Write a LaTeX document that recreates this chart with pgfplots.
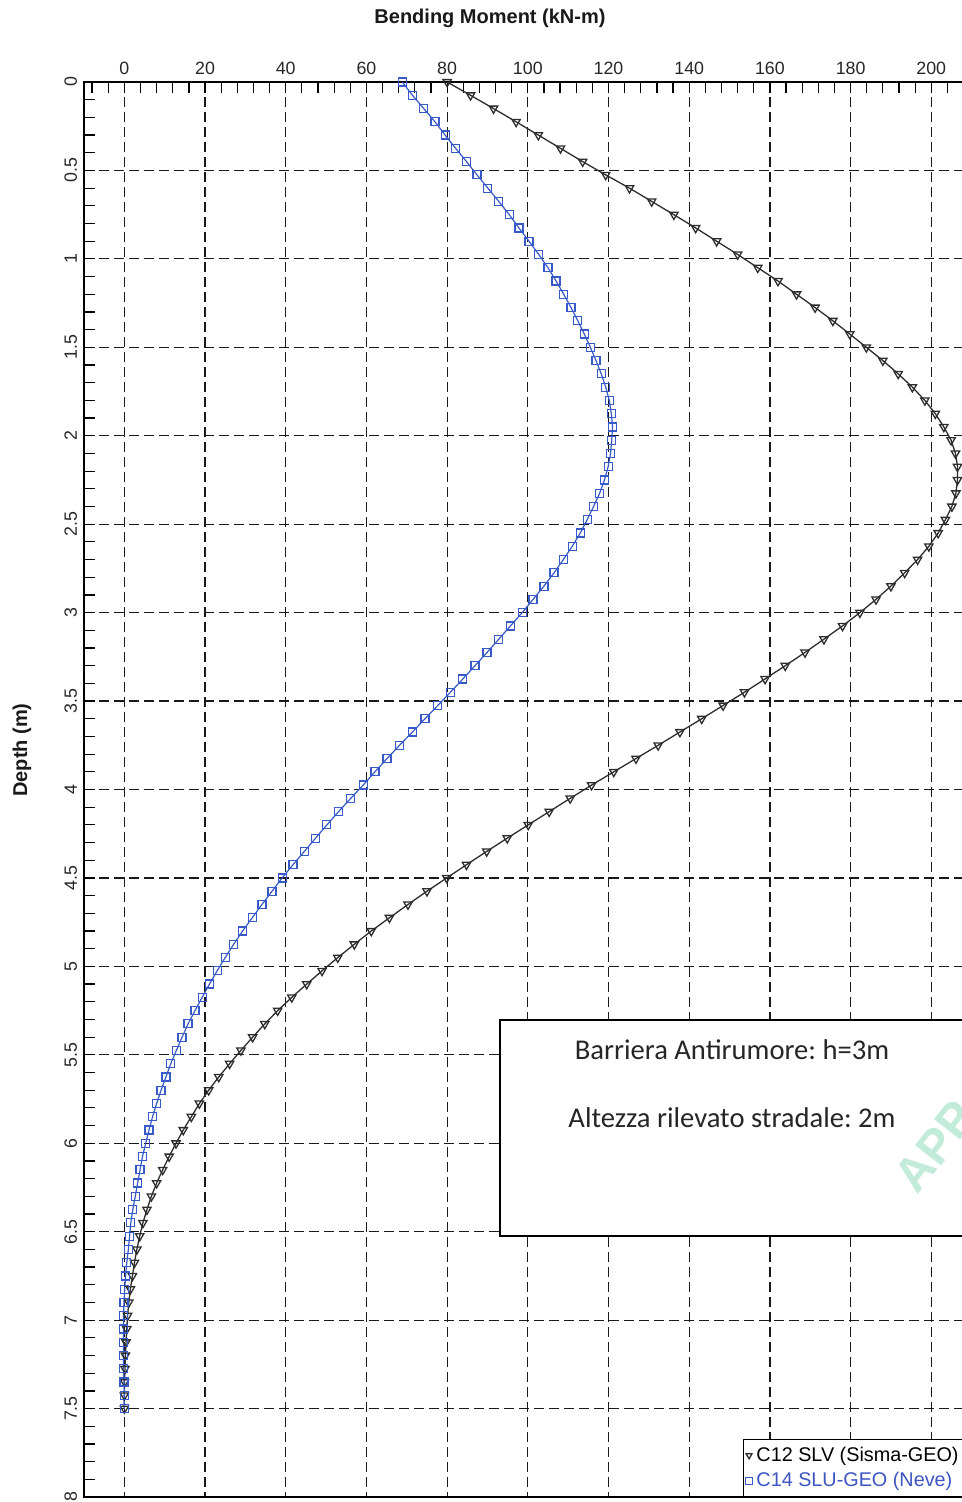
\documentclass[border=0pt]{standalone}
\usepackage{pgfplots}
\usepackage{pgfplotstable}
\pgfplotsset{compat=1.18}
\usepackage{fontspec}
\setmainfont{Liberation Sans}
\newfontfamily\calibri{Carlito}
\definecolor{curveblack}{RGB}{45,45,45}
\definecolor{curveblue}{RGB}{55,90,200}
\definecolor{legblue}{RGB}{60,85,195}
\definecolor{wmark}{RGB}{195,235,218}

\pgfplotstableread{
m d
80.0 0
85.8 0.075
91.5 0.15
97.1 0.225
102.6 0.3
108.1 0.375
113.6 0.45
119.3 0.525
125.2 0.6
130.7 0.675
136.2 0.75
141.6 0.825
146.8 0.9
152.0 0.975
157.0 1.05
162.0 1.125
166.6 1.2
171.2 1.275
175.6 1.35
179.8 1.425
183.9 1.5
188.0 1.575
191.8 1.65
195.3 1.725
198.4 1.8
201.0 1.875
203.1 1.95
204.9 2.025
206.0 2.1
206.5 2.175
206.5 2.25
206.1 2.325
205.1 2.4
203.5 2.475
201.7 2.55
199.4 2.625
196.6 2.7
193.4 2.775
190.0 2.85
186.3 2.925
182.3 3.0
178.0 3.075
173.4 3.15
168.7 3.225
163.8 3.3
158.8 3.375
153.7 3.45
148.4 3.525
143.1 3.6
137.7 3.675
132.3 3.75
126.8 3.825
121.3 3.9
115.8 3.975
110.5 4.05
105.3 4.125
100.1 4.2
94.9 4.275
89.8 4.35
84.8 4.425
79.9 4.5
75.0 4.575
70.3 4.65
65.7 4.725
61.2 4.8
57.0 4.875
52.9 4.95
49.0 5.025
45.2 5.1
41.5 5.175
38.0 5.25
34.8 5.325
31.8 5.4
28.9 5.475
26.1 5.55
23.4 5.625
20.9 5.7
18.6 5.775
16.6 5.85
14.6 5.925
12.8 6.0
11.1 6.075
9.5 6.15
8.0 6.225
6.7 6.3
5.6 6.375
4.6 6.45
3.8 6.525
3.1 6.6
2.5 6.675
2.0 6.75
1.5 6.825
1.1 6.9
0.8 6.975
0.6 7.05
0.4 7.125
0.25 7.2
0.15 7.275
0.05 7.35
0.0 7.425
0.0 7.5
}\seriesC

\pgfplotstableread{
m d
68.9 0
71.4 0.075
74.2 0.15
77.0 0.225
79.5 0.3
82.1 0.375
84.8 0.45
87.4 0.525
90.1 0.6
92.8 0.675
95.4 0.75
97.8 0.825
100.3 0.9
102.7 0.975
105.0 1.05
107.0 1.125
108.9 1.2
110.7 1.275
112.4 1.35
114.0 1.425
115.5 1.5
116.9 1.575
118.2 1.65
119.3 1.725
120.2 1.8
120.7 1.875
121.0 1.95
120.8 2.025
120.5 2.1
119.9 2.175
119.0 2.25
117.8 2.325
116.3 2.4
114.7 2.475
113.0 2.55
111.0 2.625
108.8 2.7
106.5 2.775
104.0 2.85
101.3 2.925
98.6 3.0
95.7 3.075
92.8 3.15
89.9 3.225
86.9 3.3
83.9 3.375
80.8 3.45
77.7 3.525
74.5 3.6
71.4 3.675
68.2 3.75
65.1 3.825
62.1 3.9
59.2 3.975
56.1 4.05
53.1 4.125
50.2 4.2
47.4 4.275
44.6 4.35
41.8 4.425
39.1 4.5
36.6 4.575
34.1 4.65
31.7 4.725
29.3 4.8
27.1 4.875
25.0 4.95
23.0 5.025
21.1 5.1
19.3 5.175
17.5 5.25
15.8 5.325
14.3 5.4
12.9 5.475
11.5 5.55
10.3 5.625
9.1 5.7
8.0 5.775
7.0 5.85
6.1 5.925
5.3 6.0
4.5 6.075
3.9 6.15
3.3 6.225
2.7 6.3
2.1 6.375
1.6 6.45
1.3 6.525
1.0 6.6
0.6 6.675
0.3 6.75
0.1 6.825
-0.1 6.9
-0.2 6.975
-0.2 7.05
-0.2 7.125
-0.2 7.2
-0.2 7.275
-0.1 7.35
0.0 7.425
0.0 7.5
}\seriesB

\begin{document}
\begin{tikzpicture}
\path[use as bounding box] (0pt,0pt) rectangle (481pt,-751pt);
\clip (0pt,0pt) rectangle (481pt,-751pt);
\begin{axis}[
  at={(42pt,-41pt)}, anchor=north west,
  scale only axis, width=453.9pt, height=707.5pt,
  xmin=-10, xmax=215, ymin=0, ymax=8,
  y dir=reverse,
  xtick={0,20,...,200},
  minor xtick={-8,-4,...,212},
  ytick={0,0.5,...,8},
  minor ytick={0.1,0.2,...,7.95},
  xtick pos=upper, xticklabel pos=upper,
  ytick pos=left, yticklabel pos=left,
  tick align=inside,
  major tick length=5.5pt, minor tick length=5.5pt,
  tick style={black, line width=0.6pt},
  axis line style={black, line width=0.8pt},
  grid=major,
  major grid style={black!90, line width=0.6pt, dash pattern=on 5pt off 2.5pt},
  /pgf/number format/assume math mode=true,
  tick label style={font=\fontsize{8.9}{10}\selectfont, text=black!85},
  yticklabel style={rotate=90, anchor=south},
  legend style={at={(0.726,0)}, anchor=south west, draw=black, line width=0.6pt,
    font=\fontsize{9.9}{11}\selectfont, inner xsep=1pt, inner ysep=1.5pt,
    row sep=0pt, fill=white},
  legend cell align=left,
  legend image code/.code={\draw[#1] plot[only marks, mark size=1.7pt] coordinates {(0.08cm,0cm)};},
]
\addplot[color=curveblack, line width=0.65pt, mark=triangle, mark size=2.4pt,
  mark options={rotate=180, solid, fill=none}] table[x=m, y=d] {\seriesC};
\addlegendentry{C12 SLV (Sisma-GEO)}
\addplot[color=curveblue, line width=0.6pt, mark=square, mark size=2pt,
  mark options={solid, fill=none}] table[x=m, y=d] {\seriesB};
\addlegendentry{\textcolor{legblue}{C14 SLU-GEO (Neve)}}
\end{axis}
\node[font=\bfseries\fontsize{10}{12}\selectfont, text=black!90] at (245pt,-9pt) {Bending Moment (kN-m)};
\node[rotate=90, font=\bfseries\fontsize{10}{12}\selectfont, text=black!90] at (11pt,-375pt) {Depth (m)};
\draw[line width=0.7pt, fill=white] (250pt,-510pt) rectangle (520pt,-618pt);
\node[font=\calibri\frenchspacing\fontsize{14.3}{16}\selectfont, text=black!85] at (366pt,-525pt) {Barriera Antirumore: h=3m};
\node[font=\calibri\frenchspacing\fontsize{14.3}{16}\selectfont, text=black!85] at (366pt,-559pt) {Altezza rilevato stradale: 2m};
\node[rotate=52, anchor=south west, text=wmark, font=\bfseries\fontsize{24}{26}\selectfont, inner sep=0pt] at (459pt,-598pt) {APP};
\end{tikzpicture}
\end{document}
